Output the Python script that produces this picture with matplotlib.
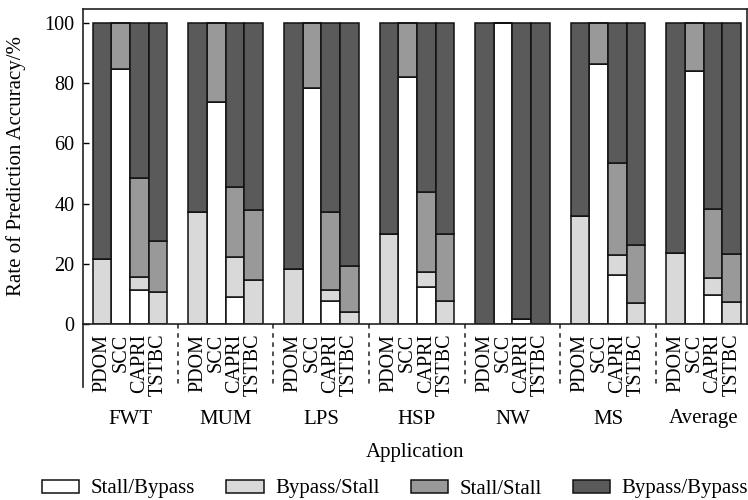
import numpy as np
import matplotlib
matplotlib.use('Agg')
import matplotlib.pyplot as plt
from matplotlib.patches import Patch

plt.rcParams['font.family'] = ['Liberation Serif', 'DejaVu Serif']

apps = ['FWT', 'MUM', 'LPS', 'HSP', 'NW', 'MS', 'Average']
methods = ['PDOM', 'SCC', 'CAPRI', 'TSTBC']
series = ['Stall/Bypass', 'Bypass/Stall', 'Stall/Stall', 'Bypass/Bypass']

# one row per application, one column per method (PDOM, SCC, CAPRI, TSTBC)
stall_bypass = [[0, 84.8, 11.4, 0],
                [0, 73.8, 8.9, 0],
                [0, 78.3, 7.5, 0],
                [0, 82.1, 12.3, 0],
                [0, 100, 1.8, 0],
                [0, 86.5, 16.4, 0],
                [0, 83.9, 9.5, 0]]
bypass_stall = [[21.7, 0, 4.1, 10.7],
                [37.1, 0, 13.2, 14.5],
                [18.4, 0, 3.9, 4.1],
                [29.9, 0, 4.9, 7.8],
                [0, 0, 0, 0],
                [35.8, 0, 6.4, 6.9],
                [23.5, 0, 5.7, 7.4]]
stall_stall = [[0, 15.2, 33.0, 16.8],
               [0, 26.2, 23.5, 23.4],
               [0, 21.7, 25.7, 15.2],
               [0, 17.9, 26.7, 22.1],
               [0, 0, 0, 0],
               [0, 13.5, 30.6, 19.5],
               [0, 16.1, 22.9, 15.7]]
bypass_bypass = [[78.3, 0, 51.5, 72.5],
                 [62.9, 0, 54.4, 62.1],
                 [81.6, 0, 62.9, 80.7],
                 [70.1, 0, 56.1, 70.1],
                 [100, 0, 98.2, 100],
                 [64.2, 0, 46.6, 73.6],
                 [76.5, 0, 61.9, 76.9]]

colors = ['#ffffff', '#d9d9d9', '#999999', '#5a5a5a']

fig = plt.figure(figsize=(7.48, 5.0), dpi=100)
ax = fig.add_axes([83 / 748, 1 - 324 / 500, 664 / 748, 315 / 500])

step = 5.126
x = np.array([g * step + j + 0.5 for g in range(len(apps)) for j in range(len(methods))])

bottom = np.zeros(len(x))
for vals, c in zip([stall_bypass, bypass_stall, stall_stall, bypass_bypass], colors):
    v = np.array(vals).ravel()
    ax.bar(x, v, width=1.0, bottom=bottom, color=c, edgecolor='#111111', linewidth=1.1)
    bottom += v

ax.set_xlim(-0.52, 6 * step + 4 + 0.32)
ax.set_ylim(0, 104.65)
ax.set_yticks([0, 20, 40, 60, 80, 100])
ax.tick_params(axis='y', direction='in', length=4, width=1, labelsize=14.5, pad=6)
ax.set_xticks(x)
ax.set_xticklabels(methods * len(apps), rotation=90, fontsize=14.5)
ax.tick_params(axis='x', length=0, pad=7)
for s in ax.spines.values():
    s.set_linewidth(1.2)
    s.set_color('#222222')

ax.set_ylabel('Rate of Prediction Accuracy/%', fontsize=15)
ax.yaxis.set_label_coords(-0.086, 0.5)

# separators below the axis and the extended left spine
ext = -(387 - 324) / 315
ax.plot([0, 0], [0, ext], transform=ax.transAxes, color='#222222', lw=1.2, clip_on=False)
trans = ax.get_xaxis_transform()
for g in range(1, len(apps)):
    xs = g * step - (step - 4) / 2
    ax.plot([xs, xs], [0, ext], transform=trans, color='#222222', lw=1.1,
            ls=(0, (3, 3)), clip_on=False)

for g, name in enumerate(apps):
    ax.text(g * step + 2, -(419 - 324) / 315, name, transform=trans,
            ha='center', va='center', fontsize=15)

ax.text(0.5, -(452 - 324) / 315, 'Application', transform=ax.transAxes,
        ha='center', va='center', fontsize=15)

handles = [Patch(facecolor=c, edgecolor='#111111', linewidth=1.1) for c in colors]
fig.legend(handles, series, loc='center', bbox_to_anchor=(395 / 748, 1 - 489 / 500),
           ncol=4, frameon=False, fontsize=15, handlelength=1.78, handleheight=0.6,
           columnspacing=1.5, handletextpad=0.55)

fig.savefig('out.png', dpi=100)
